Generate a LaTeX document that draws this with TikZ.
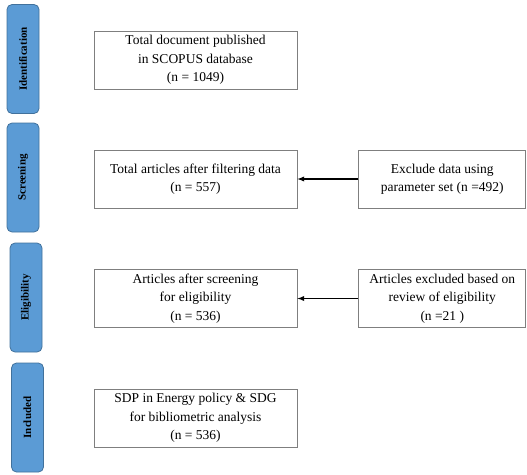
\documentclass[tikz,border=0pt]{standalone}
\usepackage{fontspec}
\setmainfont{Liberation Serif}
\usetikzlibrary{positioning}
\definecolor{stagefill}{HTML}{5B9BD5}
\definecolor{stageline}{HTML}{41719C}
\definecolor{boxline}{HTML}{7F7F7F}

\begin{document}
\begin{tikzpicture}[x=1pt,y=-1pt,
    stage/.style={draw=stageline,fill=stagefill,line width=0.8pt,rounded corners=5pt,
        rotate=90,minimum width=109pt,minimum height=32pt,inner sep=0pt,
        font=\fontsize{11}{13}\selectfont\bfseries},
    record/.style={draw=boxline,line width=0.8pt,minimum width=203pt,minimum height=58pt,
        inner sep=0pt,align=center,font=\fontsize{13.5}{18.5}\selectfont},
    exclude/.style={record,minimum width=167pt}]
    \useasboundingbox (0,0) rectangle (527,474);

    % stages
    \node[stage] (ident) at (23,59) {Identification};
    \node[stage] (screen) at (23,177.5) {Screening};
    \node[stage] (elig) at (26,297.5) {Eligibility};
    \node[stage] (incl) at (27.5,417.5) {Included};

    % records
    \node[record] (total) at (195.5,60) {Total document published\\in SCOPUS database\\(n = 1049)};
    \node[record] (filtered) at (195.5,179) {Total articles after filtering data\\(n = 557)};
    \node[record] (eligible) at (195.5,298.5) {Articles after screening\\for eligibility\\(n = 536)};
    \node[record] (final) at (195.5,418) {SDP in Energy policy \& SDG\\for bibliometric analysis\\(n = 536)};

    % exclusions
    \node[exclude,right=61pt of filtered] (param) {Exclude data using\\parameter set (n =492)};
    \node[exclude,right=61pt of eligible] (review) {Articles excluded based on\\review of eligibility\\(n =21 )};

    \draw[-latex,line width=1.3pt] (param) -- (filtered);
    \draw[-latex,line width=1.3pt] (review) -- (eligible);
\end{tikzpicture}
\end{document}
